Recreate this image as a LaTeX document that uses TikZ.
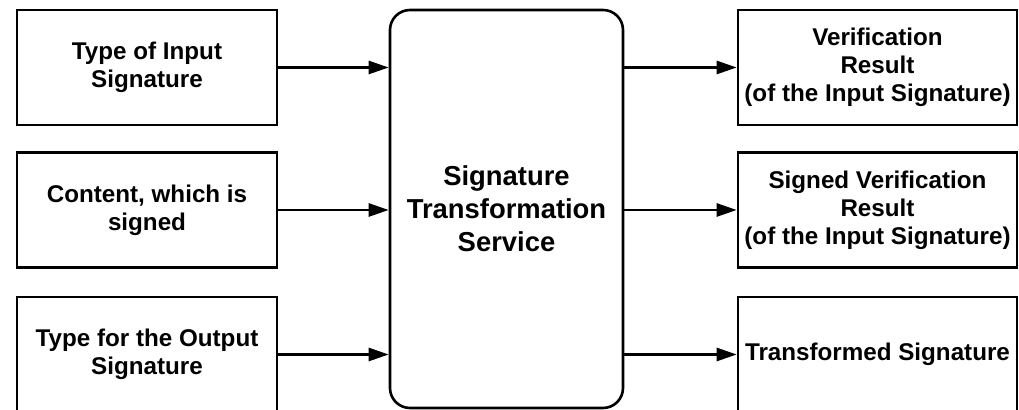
\documentclass[tikz,border=0pt]{standalone}
\usepackage{fontspec}
\setmainfont{Liberation Sans}
\usetikzlibrary{arrows.meta,positioning}

\tikzset{
  sigbox/.style={draw, rectangle, line width=1.3pt, minimum width=130pt, minimum height=57.5pt, inner sep=0pt, align=center, font=\bfseries\fontsize{12.1}{14}\selectfont},
  outbox/.style={sigbox, minimum width=139.5pt},
  service/.style={draw, rectangle, rounded corners=10pt, line width=1.3pt, minimum width=116.5pt, minimum height=199pt, align=center, font=\bfseries\fontsize{13.7}{16.5}\selectfont},
  flow/.style={-{Triangle[length=10pt,width=6.5pt]}, line width=1.3pt}
}

\begin{document}
\begin{tikzpicture}[x=0.5pt, y=-0.5pt]
    \useasboundingbox (0,0) rectangle (1019,410);

    \node[service] (sts) at (506.5,209) {Signature\\Transformation\\Service};

    \node[sigbox] (inputtype) at (147,67.5) {Type of Input\\Signature};
    \node[sigbox] (content) at (147,210) {Content, which is\\signed};
    \node[sigbox] (outputtype) at (147,354.5) {Type for the Output\\Signature};

    \node[outbox] (verify) at (877.5,67.5) {Verification\\Result\\(of the Input Signature)};
    \node[outbox] (signedverify) at (877.5,210) {Signed Verification\\Result\\(of the Input Signature)};
    \node[outbox] (transformed) at (877.5,354.5) {Transformed Signature};

    \draw[flow] (inputtype.east) -- (inputtype.east -| sts.west);
    \draw[flow] (content.east) -- (content.east -| sts.west);
    \draw[flow] (outputtype.east) -- (outputtype.east -| sts.west);

    \draw[flow] (verify.west -| sts.east) -- (verify.west);
    \draw[flow] (signedverify.west -| sts.east) -- (signedverify.west);
    \draw[flow] (transformed.west -| sts.east) -- (transformed.west);
\end{tikzpicture}
\end{document}
